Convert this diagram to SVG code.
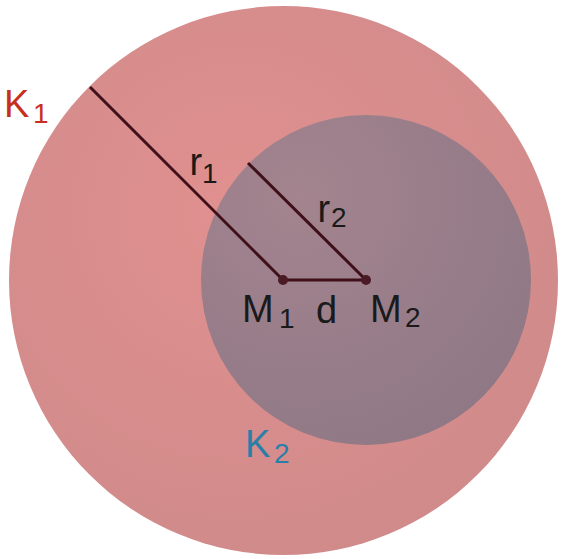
<svg xmlns="http://www.w3.org/2000/svg" width="564" height="559" viewBox="0 0 564 559">
<defs>
<radialGradient id="gBig" cx="0.42" cy="0.38" r="0.7">
<stop offset="0" stop-color="#e0908f"/>
<stop offset="1" stop-color="#cf8a8a"/>
</radialGradient>
<radialGradient id="gSmall" cx="0.3" cy="0.25" r="0.85">
<stop offset="0" stop-color="#a3848f"/>
<stop offset="1" stop-color="#8f7885"/>
</radialGradient>
<style>
.seg{stroke:#3f1019;stroke-width:3;fill:none}
.pt{fill:#4a1a25}
.lbl{font-family:"Liberation Sans",Arial,sans-serif;font-size:38px;fill:#1a1a1a}
.sub{font-size:28px}
</style>
</defs>
<g id="K1">
<circle cx="283.5" cy="280.5" r="274.5" fill="url(#gBig)"/>
</g>
<g id="K2">
<circle cx="366" cy="280" r="165" fill="url(#gSmall)"/>
</g>
<g id="connectors">
<line class="seg" x1="90" y1="87" x2="283" y2="280"/>
<line class="seg" x1="248" y1="163" x2="366" y2="280"/>
<line class="seg" x1="283" y1="280" x2="366" y2="280"/>
</g>
<g id="M1">
<circle class="pt" cx="283" cy="280" r="5"/>
</g>
<g id="M2">
<circle class="pt" cx="366" cy="280" r="5"/>
</g>
<g id="labels">
<text class="lbl" x="4" y="117" style="fill:#c8301e">K<tspan class="sub" x="33" y="123">1</tspan></text>
<text class="lbl" x="245" y="457" style="fill:#2a7fa8">K<tspan class="sub" x="274" y="463">2</tspan></text>
<text class="lbl" x="189.5" y="175">r<tspan class="sub" x="202" y="183">1</tspan></text>
<text class="lbl" x="317.5" y="222">r<tspan class="sub" x="331" y="227">2</tspan></text>
<text class="lbl" x="242" y="322">M<tspan class="sub" x="279" y="328">1</tspan></text>
<text class="lbl" x="316" y="323">d</text>
<text class="lbl" x="370" y="322">M<tspan class="sub" x="405" y="327">2</tspan></text>
</g>
</svg>
